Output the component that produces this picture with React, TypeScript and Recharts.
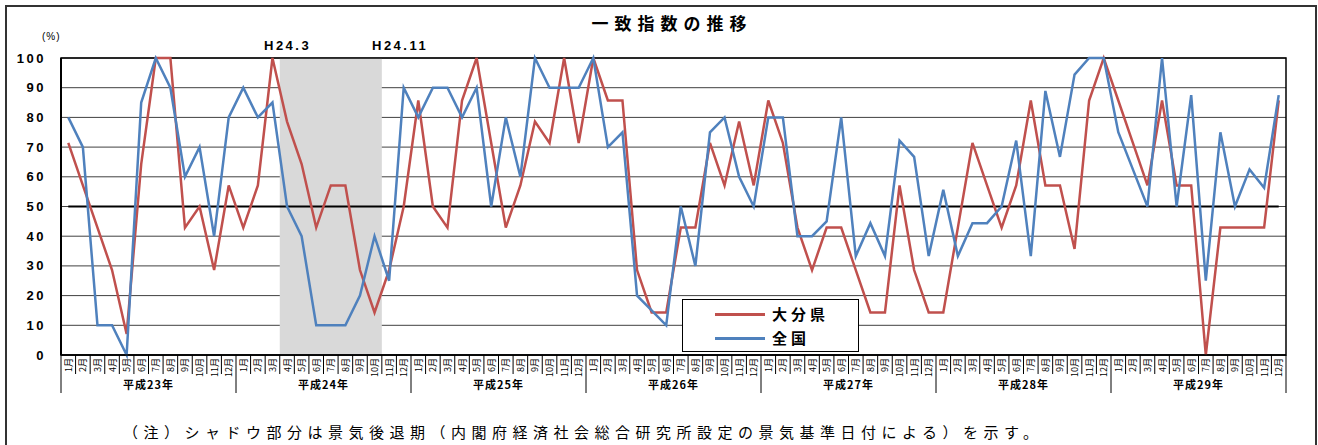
import React from "react";
import { LineChart, Line, XAxis, YAxis, CartesianGrid, ReferenceArea, ReferenceLine, Legend } from "recharts";

const years = ["平成23年", "平成24年", "平成25年", "平成26年", "平成27年", "平成28年", "平成29年"];
const months = ["1月", "2月", "3月", "4月", "5月", "6月", "7月", "8月", "9月", "10月", "11月", "12月"];

// 大分県 一致指数 (DI, %)
const oita = [
  71.4, 57.1, 42.9, 28.6, 7.1, 64.3, 100, 100, 42.9, 50, 28.6, 57.1,
  42.9, 57.1, 100, 78.6, 64.3, 42.9, 57.1, 57.1, 28.6, 14.3, 28.6, 50,
  85.7, 50, 42.9, 85.7, 100, 71.4, 42.9, 57.1, 78.6, 71.4, 100, 71.4,
  100, 85.7, 85.7, 28.6, 14.3, 14.3, 42.9, 42.9, 71.4, 57.1, 78.6, 57.1,
  85.7, 71.4, 42.9, 28.6, 42.9, 42.9, 28.6, 14.3, 14.3, 57.1, 28.6, 14.3,
  14.3, 42.9, 71.4, 57.1, 42.9, 57.1, 85.7, 57.1, 57.1, 35.7, 85.7, 100,
  85.7, 71.4, 57.1, 85.7, 57.1, 57.1, 0, 42.9, 42.9, 42.9, 42.9, 85.7,
];

// 全国 一致指数 (DI, %)
const zenkoku = [
  80, 70, 10, 10, 0, 85, 100, 90, 60, 70, 40, 80,
  90, 80, 85, 50, 40, 10, 10, 10, 20, 40, 25, 90,
  80, 90, 90, 80, 90, 50, 80, 60, 100, 90, 90, 90,
  100, 70, 75, 20, 15, 10, 50, 30, 75, 80, 60, 50,
  80, 80, 40, 40, 45, 80, 33.3, 44.4, 33.3, 72.2, 66.7, 33.3,
  55.6, 33.3, 44.4, 44.4, 50, 72.2, 33.3, 88.9, 66.7, 94.4, 100, 100,
  75, 62.5, 50, 100, 50, 87.5, 25, 75, 50, 62.5, 56.3, 87.5,
];

const yTicks = [0, 10, 20, 30, 40, 50, 60, 70, 80, 90, 100];

const categories = years.flatMap((y) => months.map((m) => `${y}${m}`));
const data = categories.map((c, i) => ({ c, oita: oita[i], zenkoku: zenkoku[i] }));

const PLOT_LEFT = 61;
const PLOT_RIGHT = 1286;
const PLOT_BOTTOM = 355;
const BAND = (PLOT_RIGHT - PLOT_LEFT) / categories.length;
const FONT = "'Liberation Sans', Arial, 'Noto Sans CJK JP', sans-serif";
const JFONT = "'Noto Sans CJK JP', 'Liberation Sans', sans-serif";

const RED = "#c0504d";
const BLUE = "#4f81bd";

const YTick = (props: any) => {
  const { y, payload } = props;
  return (
    <text x={46} y={y} textAnchor="end" dominantBaseline="central" fontSize={13} fontWeight="bold" letterSpacing={2.5} fontFamily={FONT} fill="#000">
      {payload.value}
    </text>
  );
};

const MonthTick = (props: any) => {
  const { x, index } = props;
  const mi = index % 12;
  const left = x - BAND / 2;
  const isLast = index === categories.length - 1;
  return (
    <g>
      <line x1={left} x2={left} y1={PLOT_BOTTOM} y2={mi === 0 ? 393 : 374} stroke="#000" strokeWidth={1} />
      {isLast && <line x1={x + BAND / 2} x2={x + BAND / 2} y1={PLOT_BOTTOM} y2={393} stroke="#000" strokeWidth={1} />}
      <text
        x={x + 3.5}
        y={358}
        transform={`rotate(-90 ${x + 3.5} 358)`}
        textAnchor="end"
        fontSize={9}
        fontFamily={JFONT}
        fill="#000"
      >
        {months[mi]}
      </text>
      {mi === 6 && (
        <text x={left} y={389} textAnchor="middle" fontSize={11} fontWeight="bold" letterSpacing={1} fontFamily={JFONT} fill="#000">
          {years[Math.floor(index / 12)]}
        </text>
      )}
    </g>
  );
};

const LegendBox = () => (
  <div style={{ width: 175, height: 51, background: "#fff", border: "1.5px solid #000", position: "relative", fontFamily: JFONT }}>
    {[
      { name: "大分県", color: RED, top: 14 },
      { name: "全国", color: BLUE, top: 38 },
    ].map((e) => (
      <div key={e.name}>
        <div style={{ position: "absolute", left: 32, top: e.top - 1, width: 50, height: 2.5, background: e.color }} />
        <div style={{ position: "absolute", left: 89, top: e.top - 11, fontSize: 15, fontWeight: "bold", letterSpacing: 4, lineHeight: "22px" }}>
          {e.name}
        </div>
      </div>
    ))}
  </div>
);

export default function App() {
  return (
    <div style={{ position: "absolute", left: 0, top: 0, width: 1318, height: 445, background: "#fff", overflow: "hidden" }}>
      <div style={{ position: "absolute", left: 5, top: 5, width: 1308, height: 460, border: "2px solid #333" }} />
      <div style={{ position: "absolute", left: 0, width: 1344, top: 10, textAlign: "center", fontFamily: JFONT, fontWeight: "bold", fontSize: 17, letterSpacing: 6 }}>
        一致指数の推移
      </div>
      <div style={{ position: "absolute", left: 42, top: 31, fontFamily: FONT, fontSize: 10, letterSpacing: 1 }}>(%)</div>
      <div style={{ position: "absolute", left: 264, top: 38, fontFamily: FONT, fontSize: 13, fontWeight: "bold", letterSpacing: 2.5 }}>H24.3</div>
      <div style={{ position: "absolute", left: 372, top: 38, fontFamily: FONT, fontSize: 13, fontWeight: "bold", letterSpacing: 2.5 }}>H24.11</div>
      <div style={{ position: "absolute", left: 123, top: 421, fontFamily: JFONT, fontSize: 15, letterSpacing: 5.5, whiteSpace: "nowrap" }}>
        （注）シャドウ部分は景気後退期（内閣府経済社会総合研究所設定の景気基準日付による）を示す。
      </div>
      <LineChart width={1318} height={445} data={data} margin={{ top: 58, right: 1318 - PLOT_RIGHT, bottom: 0, left: 0 }} style={{ position: "absolute", left: 0, top: 0 }}>
        <CartesianGrid vertical={false} stroke="#404040" strokeWidth={1} />
        <XAxis dataKey="c" scale="band" interval={0} height={90} tickLine={false} axisLine={{ stroke: "#000", strokeWidth: 1.5 }} tick={<MonthTick />} />
        <YAxis width={PLOT_LEFT} domain={[0, 100]} ticks={yTicks} interval={0} tickLine={false} axisLine={{ stroke: "#000", strokeWidth: 2 }} tick={<YTick />} />
        <ReferenceArea x1={categories[15]} x2={categories[21]} y1={0} y2={100} fill="#d9d9d9" fillOpacity={1} stroke="none" />
        <ReferenceArea x1={categories[0]} x2={categories[categories.length - 1]} y1={0} y2={100} fill="none" stroke="#000" strokeWidth={1.5} />
        <ReferenceLine
          segment={[
            { x: categories[0], y: 50 },
            { x: categories[categories.length - 1], y: 50 },
          ]}
          stroke="#000"
          strokeWidth={2}
        />
        <Legend
          layout="vertical"
          align="center"
          verticalAlign="middle"
          content={() => <LegendBox />}
          wrapperStyle={{ left: 682, top: 299, width: 178, height: 54 }}
        />
        <Line type="linear" dataKey="oita" name="大分県" stroke={RED} strokeWidth={2.5} dot={false} isAnimationActive={false} />
        <Line type="linear" dataKey="zenkoku" name="全国" stroke={BLUE} strokeWidth={2.5} dot={false} isAnimationActive={false} />
      </LineChart>
    </div>
  );
}
